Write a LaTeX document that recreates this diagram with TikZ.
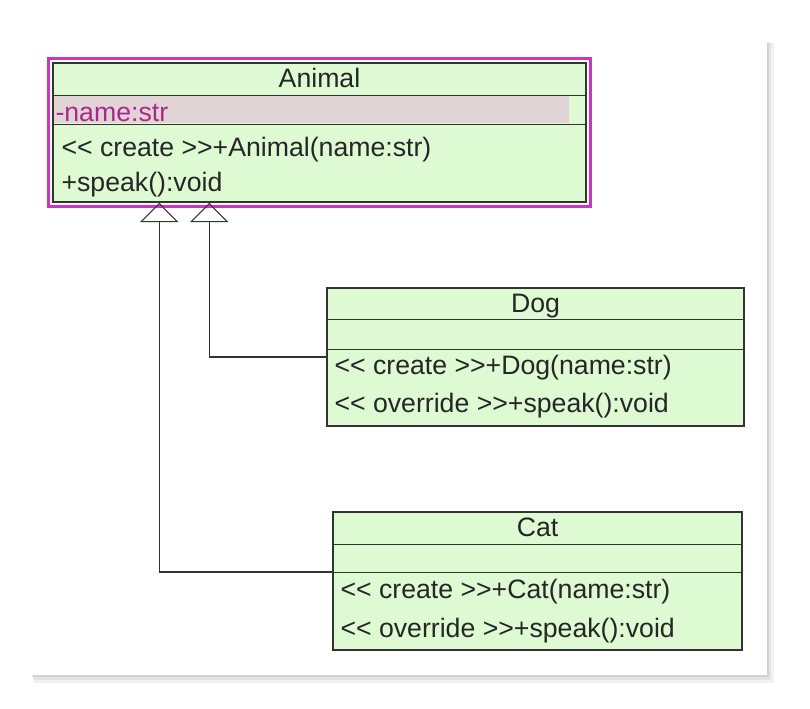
\documentclass[tikz,border=0pt]{standalone}
\usepackage{fontspec}
\setmainfont{Liberation Sans}
\usetikzlibrary{arrows.meta,calc}

\definecolor{umlgreen}{RGB}{221,250,211}
\definecolor{selmagenta}{RGB}{206,52,196}
\definecolor{attrpink}{RGB}{226,212,214}
\definecolor{attrtext}{RGB}{170,40,140}
\newcommand{\stereo}[1]{<{}< #1 >{}>}

\tikzset{
	classbox/.style={draw=black!80, line width=1.1pt, fill=umlgreen, inner sep=0pt},
	sepline/.style={draw=black!80, line width=1.1pt},
	ctitle/.style={anchor=base, inner sep=0pt, text=black!85, font=\fontsize{20}{22}\selectfont},
	memb/.style={anchor=base west, inner sep=0pt, text=black!85, font=\fontsize{20}{22}\selectfont},
	inherit/.style={draw=black!80, line width=1.1pt, -{Triangle[open, length=14.5pt, width=28.5pt, line width=0.8pt]}},
}

\begin{document}
\begin{tikzpicture}[x=0.75pt,y=0.75pt,yscale=-1,xscale=1]
	\useasboundingbox (0,0) rectangle (810,708);
	
	%Shape: Panel shadow
	\fill [black, opacity=0.05] (33,43) rectangle (774,683);
	\fill [black, opacity=0.06] (33,43) rectangle (771,680);
	\fill [black, opacity=0.08] (32,42) rectangle (769,677);
	%Shape: Panel
	\fill [white] (32,42) rectangle (767,675);
	
	%Shape: Class Animal
	\node [classbox, minimum width=399.75pt, minimum height=104.25pt] (animal) at (319.5,132.5) {};
	\fill [attrpink] ($(animal.north west)+(2,34)$) rectangle ($(animal.north west)+(517,61)$);
	\draw [sepline] ($(animal.north west)+(0,33)$) -- ($(animal.north east)+(0,33)$);
	\draw [sepline] ($(animal.north west)+(0,62)$) -- ($(animal.north east)+(0,62)$);
	\draw [selmagenta, line width=2.4pt] ($(animal.north west)+(-4,-3.5)$) rectangle ($(animal.south east)+(3.5,3.5)$);
	
	%Shape: Class Dog
	\node [classbox, minimum width=312.75pt, minimum height=103.5pt] (dog) at (535.5,357) {};
	\draw [sepline] ($(dog.north west)+(0,32)$) -- ($(dog.north east)+(0,32)$);
	\draw [sepline] ($(dog.north west)+(0,62)$) -- ($(dog.north east)+(0,62)$);
	
	%Shape: Class Cat
	\node [classbox, minimum width=306.75pt, minimum height=103.5pt] (cat) at (537.5,581) {};
	\draw [sepline] ($(cat.north west)+(0,33)$) -- ($(cat.north east)+(0,33)$);
	\draw [sepline] ($(cat.north west)+(0,61)$) -- ($(cat.north east)+(0,61)$);
	
	%Straight Lines: Generalisation
	\draw [inherit] (dog.west) -| ($(animal.south west)+(157,0)$);
	\draw [inherit] ($(cat.west)+(0,-9)$) -| ($(animal.south west)+(107,0)$);
	
	% Text Node
	\node [ctitle] (animaltitle) at ($(animal.north)+(0,25)$) {Animal};
	% Text Node
	\node [memb, text=attrtext] (animalattr) at ($(animal.north west)+(3,59)$) {-name:str};
	% Text Node
	\node [memb] (animalctor) at ($(animal.north west)+(9,94)$) {\stereo{create}+Animal(name:str)};
	% Text Node
	\node [memb] (animalspeak) at ($(animal.north west)+(9,129)$) {+speak():void};
	% Text Node
	\node [ctitle] (dogtitle) at ($(dog.north)+(0,25)$) {Dog};
	% Text Node
	\node [memb] (dogctor) at ($(dog.north west)+(8,87)$) {\stereo{create}+Dog(name:str)};
	% Text Node
	\node [memb] (dogspeak) at ($(dog.north west)+(8,125)$) {\stereo{override}+speak():void};
	% Text Node
	\node [ctitle] (cattitle) at ($(cat.north)+(0,25)$) {Cat};
	% Text Node
	\node [memb] (catctor) at ($(cat.north west)+(8,87)$) {\stereo{create}+Cat(name:str)};
	% Text Node
	\node [memb] (catspeak) at ($(cat.north west)+(8,126)$) {\stereo{override}+speak():void};
	
\end{tikzpicture}
\end{document}
